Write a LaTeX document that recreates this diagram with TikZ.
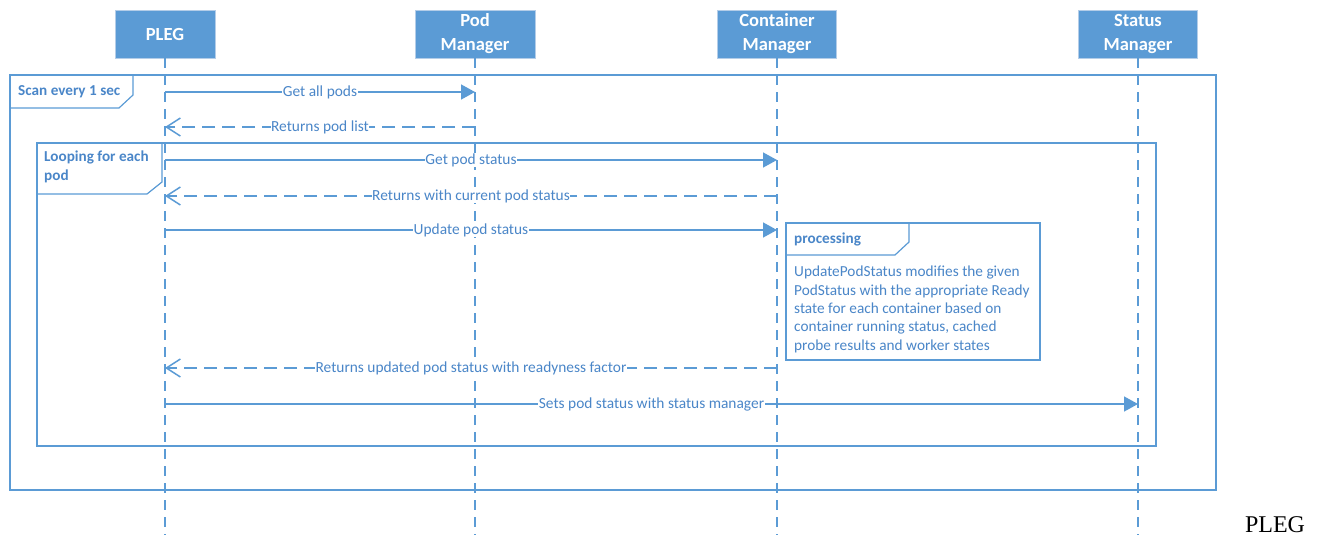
\documentclass[tikz,border=0pt]{standalone}
\usepackage{fontspec}
\setmainfont{Carlito}
\newfontfamily\captionserif{Liberation Serif}
\usetikzlibrary{arrows.meta}
\definecolor{office}{HTML}{5B9BD5}
\definecolor{ink}{HTML}{4A86C8}
\definecolor{rim}{HTML}{B4CDE8}
\begin{document}
\begin{tikzpicture}[x=1pt,y=-1pt,
  head/.style={fill=office,draw=rim,line width=0.8pt,text=white,
    font=\fontsize{18.5}{24}\selectfont\bfseries,align=center,
    minimum height=48pt,inner sep=2pt},
  lifeline/.style={draw=office,line width=1.6pt,dash pattern=on 10pt off 7pt},
  frame/.style={draw=office,line width=1.2pt},
  call/.style={draw=office,line width=1.5pt,-{Triangle[length=14pt,width=15pt]}},
  reply/.style={draw=office,line width=1.5pt,dash pattern=on 13pt off 7pt,
    -{Straight Barb[length=14pt,width=18pt,line width=1.5pt]}},
  msg/.style={fill=white,text=ink,inner sep=0.6pt,font=\fontsize{15.4}{17}\selectfont},
  tag/.style={text=ink,font=\fontsize{15.2}{19}\selectfont\bfseries,anchor=west,inner sep=0pt}]
\useasboundingbox (0,0) rectangle (1325,535);

% participants
\node[head,minimum width=100pt] (pleg) at (165,34) {PLEG};
\node[head,minimum width=120pt] (pod) at (475,34) {Pod\\Manager};
\node[head,minimum width=119pt] (cont) at (777,34) {Container\\Manager};
\node[head,minimum width=119pt] (stat) at (1138,34) {Status\\Manager};

% lifelines
\coordinate (plegEnd) at (165,535);
\coordinate (podEnd) at (475,535);
\coordinate (contEnd) at (777,535);
\coordinate (statEnd) at (1138,535);
\draw[lifeline] (pleg.south) -- (plegEnd);
\draw[lifeline] (pod.south) -- (podEnd);
\draw[lifeline] (cont.south) -- (contEnd);
\draw[lifeline] (stat.south) -- (statEnd);

% outer loop frame
\draw[frame] (10,75) rectangle (1216,490);
\draw[frame] (10,108) -- (119,108) -- (133,95) -- (133,75);
\node[tag] (scan) at (18,92) {Scan every 1 sec};

% inner loop frame
\draw[frame] (37,143) rectangle (1156,446);
\draw[frame] (37,194) -- (147,194) -- (162,182) -- (162,143);
\node[tag,align=left,anchor=north west] (loop) at (44,151) {Looping for each\\pod};

% message end points on the lifelines
\coordinate (p1) at (165,92);   \coordinate (q1) at (475,92);
\coordinate (p2) at (165,127);  \coordinate (q2) at (475,127);
\coordinate (p3) at (165,160);  \coordinate (c3) at (777,160);
\coordinate (p4) at (165,196);  \coordinate (c4) at (777,196);
\coordinate (p5) at (165,230);  \coordinate (c5) at (777,230);
\coordinate (p6) at (165,368);  \coordinate (c6) at (777,368);
\coordinate (p7) at (165,404);  \coordinate (s7) at (1138,404);

% messages
\draw[call] (p1) -- node[msg] {Get all pods} (q1);
\draw[reply] (q2) -- node[msg] {Returns pod list} (p2);
\draw[call] (p3) -- node[msg] {Get pod status} (c3);
\draw[reply] (c4) -- node[msg] {Returns with current pod status} (p4);
\draw[call] (p5) -- node[msg] {Update pod status} (c5);
\draw[reply] (c6) -- node[msg] {Returns updated pod status with readyness factor} (p6);
\draw[call] (p7) -- node[msg] {Sets pod status with status manager} (s7);

% processing note
\draw[frame,fill=white] (786,223) rectangle (1040,360);
\draw[frame] (786,255) -- (895,255) -- (909,242) -- (909,223);
\node[tag] (proc) at (794,239) {processing};
\node[text=ink,font=\fontsize{15.3}{18.3}\selectfont,anchor=north west,align=left,inner sep=0pt] (procText) at (794,266)
  {UpdatePodStatus modifies the given\\PodStatus with the appropriate Ready\\state for each container based on\\container running status, cached\\probe results and worker states};

% caption
\node[font=\captionserif\fontsize{24}{26}\selectfont,text=black,anchor=base] (caption) at (1275,532) {PLEG};
\end{tikzpicture}
\end{document}
